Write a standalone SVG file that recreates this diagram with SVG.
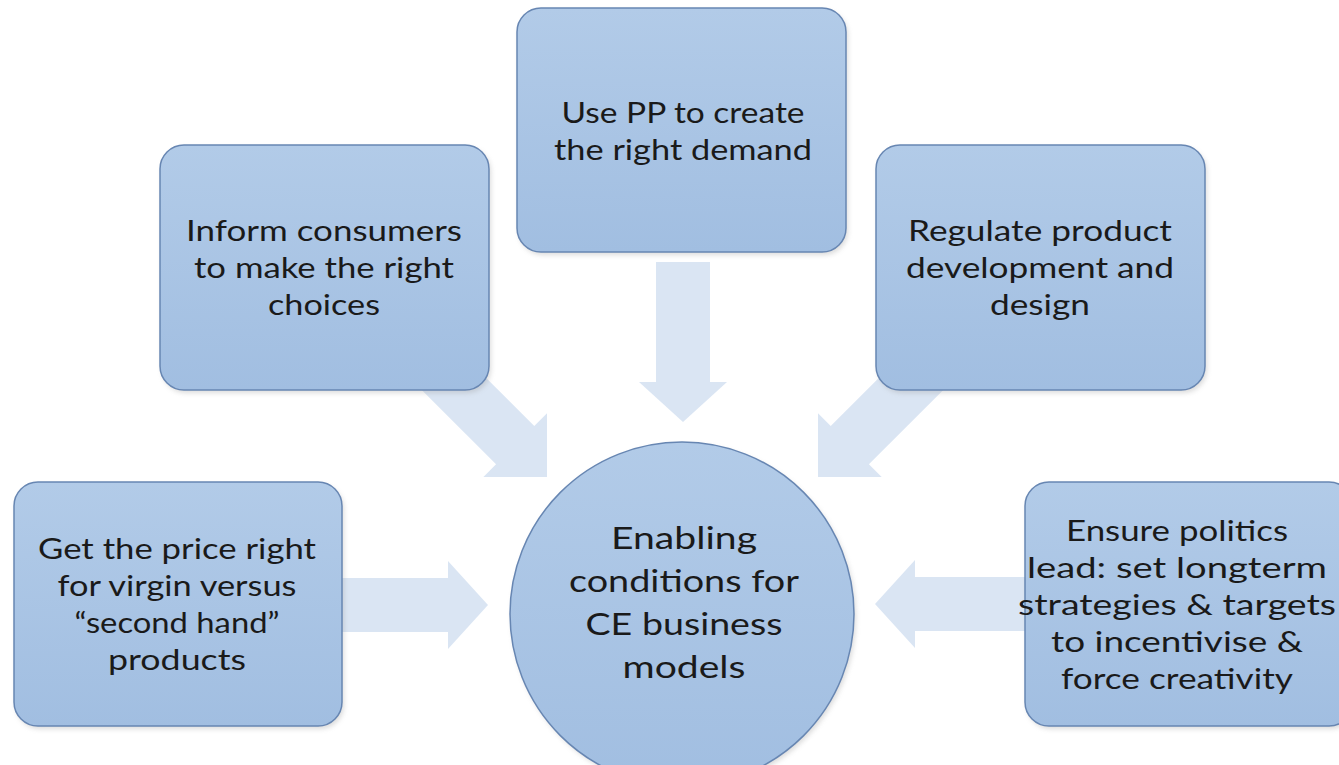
<svg xmlns="http://www.w3.org/2000/svg" width="1339" height="765" viewBox="0 0 1339 765">
<defs>
<linearGradient id="boxg" x1="0" y1="0" x2="0" y2="1">
<stop offset="0" stop-color="#b2cbe8"/>
<stop offset="1" stop-color="#a1bee1"/>
</linearGradient>
<filter id="sh" x="-10%" y="-10%" width="120%" height="120%">
<feGaussianBlur stdDeviation="2.5"/>
</filter>
<polygon id="arr" points="-27,-160 27,-160 27,-40 44,-40 0,0 -44,-40 -27,-40"/>
<polygon id="arrd" points="-27,-170 27,-170 27,-45 45,-45 0,0 -45,-45 -27,-45"/>
</defs>
<style>
.box{fill:url(#boxg);stroke:#6786b2;stroke-width:1.5}
.shadow{fill:#9a9a9a;opacity:0.35;filter:url(#sh)}
.arrow{fill:#d6e2f2;opacity:0.9}
text{font-family:Lato,"Open Sans",sans-serif;font-size:29px;fill:#1a1a1a;text-anchor:middle}
.big{font-size:31px}
</style>
<rect width="1339" height="765" fill="#ffffff"/>
<g id="connectors">
<use href="#arr" class="arrow" transform="translate(683,422)"/>
<use href="#arrd" class="arrow" transform="translate(547,477) rotate(-45)"/>
<use href="#arrd" class="arrow" transform="translate(818,477) rotate(45)"/>
<use href="#arr" class="arrow" transform="translate(488,605) rotate(-90)"/>
<use href="#arr" class="arrow" transform="translate(875,604) rotate(90)"/>
</g>
<g id="node-top">
<rect class="shadow" x="519" y="11" width="329" height="244" rx="24"/>
<rect class="box" x="517" y="8" width="329" height="244" rx="24"/>
<text x="683" y="123" textLength="243" lengthAdjust="spacingAndGlyphs">Use PP to create</text>
<text x="683" y="160" textLength="258" lengthAdjust="spacingAndGlyphs">the right demand</text>
</g>
<g id="node-upper-left">
<rect class="shadow" x="162" y="148" width="329" height="245" rx="24"/>
<rect class="box" x="160" y="145" width="329" height="245" rx="24"/>
<text x="324" y="241" textLength="276" lengthAdjust="spacingAndGlyphs">Inform consumers</text>
<text x="324" y="278" textLength="260" lengthAdjust="spacingAndGlyphs">to make the right</text>
<text x="324" y="315" textLength="112" lengthAdjust="spacingAndGlyphs">choices</text>
</g>
<g id="node-upper-right">
<rect class="shadow" x="878" y="148" width="329" height="245" rx="24"/>
<rect class="box" x="876" y="145" width="329" height="245" rx="24"/>
<text x="1040" y="241" textLength="264" lengthAdjust="spacingAndGlyphs">Regulate product</text>
<text x="1040" y="278" textLength="268" lengthAdjust="spacingAndGlyphs">development and</text>
<text x="1040" y="315" textLength="100" lengthAdjust="spacingAndGlyphs">design</text>
</g>
<g id="node-left">
<rect class="shadow" x="16" y="485" width="328" height="244" rx="24"/>
<rect class="box" x="14" y="482" width="328" height="244" rx="24"/>
<text x="177" y="559" textLength="278" lengthAdjust="spacingAndGlyphs">Get the price right</text>
<text x="177" y="596" textLength="239" lengthAdjust="spacingAndGlyphs">for virgin versus</text>
<text x="177" y="633" textLength="205" lengthAdjust="spacingAndGlyphs">“second hand”</text>
<text x="177" y="670" textLength="138" lengthAdjust="spacingAndGlyphs">products</text>
</g>
<g id="node-right">
<rect class="shadow" x="1027" y="485" width="328" height="244" rx="24"/>
<rect class="box" x="1025" y="482" width="328" height="244" rx="24"/>
<text x="1177" y="541" textLength="222" lengthAdjust="spacingAndGlyphs">Ensure politics</text>
<text x="1177" y="578" textLength="300" lengthAdjust="spacingAndGlyphs">lead: set longterm</text>
<text x="1177" y="615" textLength="318" lengthAdjust="spacingAndGlyphs">strategies &amp; targets</text>
<text x="1177" y="652" textLength="252" lengthAdjust="spacingAndGlyphs">to incentivise &amp;</text>
<text x="1177" y="689" textLength="232" lengthAdjust="spacingAndGlyphs">force creativity</text>
</g>
<g id="node-center">
<circle class="shadow" cx="684" cy="617" r="172"/>
<circle class="box" cx="682" cy="614" r="172"/>
<text class="big" x="684" y="549" textLength="146" lengthAdjust="spacingAndGlyphs">Enabling</text>
<text class="big" x="684" y="592" textLength="230" lengthAdjust="spacingAndGlyphs">conditions for</text>
<text class="big" x="684" y="635" textLength="197" lengthAdjust="spacingAndGlyphs">CE business</text>
<text class="big" x="684" y="678" textLength="123" lengthAdjust="spacingAndGlyphs">models</text>
</g>
</svg>
